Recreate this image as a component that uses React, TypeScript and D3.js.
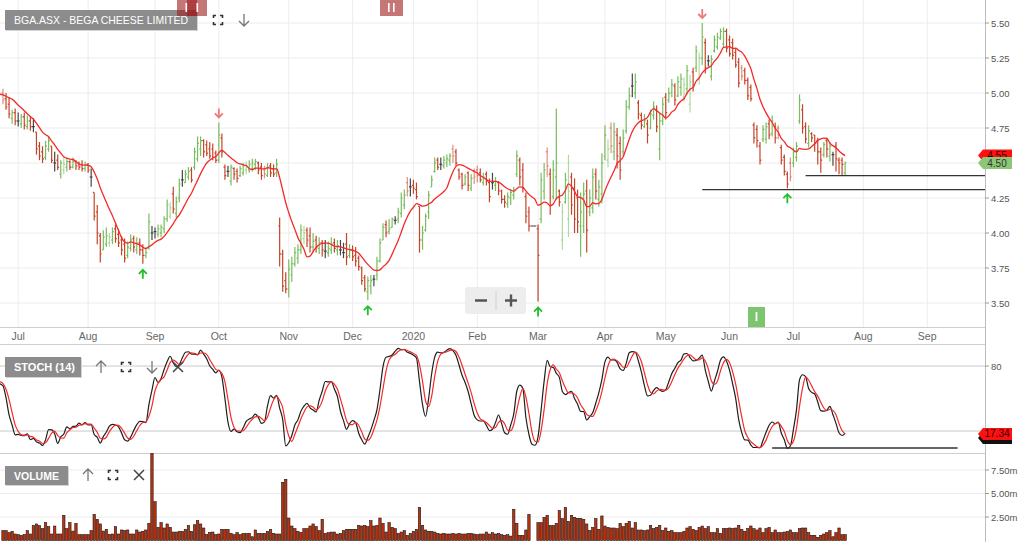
import React from 'react';
import * as d3 from 'd3';

// ---- data ----
const firstSession = '2019-06-24';
const axisEndDate = '2020-09-30';
const asxHolidays = ['2019-12-25', '2019-12-26', '2020-01-01', '2020-01-27', '2020-04-10', '2020-04-13', '2020-06-08'];

// sessions before the first visible bar, only used to warm up the SMA / stochastic
const warmupHighs = [5.12, 5.10, 5.11, 5.10, 5.04, 4.95, 4.92, 4.98, 5.02, 5.03, 5.04, 5.01, 5.03, 5.07, 5.06, 5.04, 5.04, 5.03];
const warmupLows = [5.02, 5.00, 5.01, 5.00, 4.90, 4.82, 4.80, 4.86, 4.93, 4.95, 4.94, 4.92, 4.93, 4.98, 4.97, 4.95, 4.96, 4.92];
const warmupCloses = [5.08, 5.05, 5.07, 5.02, 4.92, 4.86, 4.90, 4.96, 4.99, 5.00, 4.97, 4.95, 5.00, 5.03, 5.01, 4.99, 5.01, 4.96];

const opens = [
  5.00, 4.96, 4.92, 4.82, 4.86, 4.80, 4.78, 4.83, 4.76, 4.80,
  4.76, 4.72, 4.62, 4.58, 4.54, 4.60, 4.62, 4.50, 4.52, 4.42,
  4.45, 4.47, 4.51, 4.47, 4.51, 4.50, 4.49, 4.46, 4.49, 4.40,
  4.29, 4.15, 3.98, 3.88, 3.92, 3.93, 3.95, 4.03, 3.99, 3.95,
  3.92, 3.84, 3.89, 3.96, 3.88, 3.93, 3.88, 3.84, 3.90, 4.00,
  4.01, 3.99, 4.00, 4.03, 4.10, 4.12, 4.28, 4.14, 4.25, 4.38,
  4.36, 4.40, 4.45, 4.47, 4.53, 4.60, 4.66, 4.63, 4.60, 4.60,
  4.57, 4.52, 4.68, 4.47, 4.44, 4.37, 4.46, 4.44, 4.41, 4.43,
  4.45, 4.45, 4.46, 4.49, 4.50, 4.47, 4.45, 4.41, 4.48, 4.46,
  4.43, 4.05, 3.85, 3.66, 3.60, 3.70, 3.78, 3.82, 3.88, 3.96,
  4.02, 3.98, 3.90, 3.95, 3.89, 3.93, 3.87, 3.86, 3.88, 3.93,
  3.88, 3.88, 3.86, 3.92, 3.84, 3.88, 3.84, 3.82, 3.75, 3.68,
  3.58, 3.62, 3.67, 3.70, 3.80, 3.95, 4.06, 4.01, 4.04, 4.09,
  4.10, 4.14, 4.20, 4.36, 4.33, 4.34, 4.31, 4.19, 3.95, 4.02,
  4.15, 4.33, 4.44, 4.52, 4.49, 4.48, 4.50, 4.52, 4.60, 4.58,
  4.45, 4.42, 4.35, 4.43, 4.32, 4.44, 4.45, 4.43, 4.36, 4.42,
  4.36, 4.36, 4.34, 4.36, 4.30, 4.24, 4.21, 4.25, 4.27, 4.42,
  4.52, 4.45, 4.26, 4.15, 4.05, 4.05, 4.03, 4.10, 4.30, 4.58,
  4.42, 4.26, 4.40, 4.30, 3.95, 4.22, 4.10, 4.40, 4.32, 4.25,
  4.05, 4.05, 4.30, 4.15, 4.18, 4.42, 4.24, 4.28, 4.55, 4.52,
  4.75, 4.58, 4.70, 4.64, 4.58, 4.73, 4.90, 5.05, 5.00, 4.93,
  4.84, 4.76, 4.78, 4.75, 4.84, 4.88, 4.60, 4.80, 4.97, 4.95,
  5.00, 5.05, 4.98, 5.04, 4.97, 5.03, 4.92, 5.15, 5.18, 5.10,
  5.25, 5.36, 5.23, 5.12, 5.30, 5.33, 5.39, 5.35, 5.44, 5.38,
  5.36, 5.29, 5.22, 5.18, 5.16, 5.09, 5.04, 4.77, 4.74, 4.62,
  4.67, 4.67, 4.78, 4.71, 4.76, 4.75, 4.61, 4.54, 4.42, 4.50,
  4.50, 4.54, 4.80, 4.88, 4.76, 4.64, 4.71, 4.70, 4.66, 4.58,
  4.56, 4.66, 4.55, 4.56, 4.62, 4.52, 4.52, 4.43,
];

const highs = [
  5.03, 5.00, 4.97, 4.88, 4.89, 4.86, 4.85, 4.86, 4.84, 4.83,
  4.82, 4.72, 4.65, 4.62, 4.66, 4.69, 4.62, 4.58, 4.56, 4.52,
  4.54, 4.53, 4.52, 4.54, 4.52, 4.51, 4.52, 4.51, 4.50, 4.46,
  4.29, 4.20, 4.00, 4.02, 4.04, 4.00, 4.04, 4.06, 4.03, 3.98,
  3.96, 3.94, 3.99, 3.98, 3.97, 3.96, 3.92, 3.90, 4.14, 4.05,
  4.04, 4.06, 4.06, 4.12, 4.24, 4.22, 4.33, 4.26, 4.39, 4.45,
  4.45, 4.47, 4.47, 4.61, 4.69, 4.69, 4.67, 4.66, 4.65, 4.64,
  4.59, 4.79, 4.71, 4.49, 4.48, 4.49, 4.47, 4.46, 4.48, 4.50,
  4.51, 4.52, 4.53, 4.53, 4.51, 4.50, 4.48, 4.50, 4.50, 4.49,
  4.53, 4.11, 3.88, 3.72, 3.81, 3.83, 3.90, 3.92, 4.06, 4.05,
  4.04, 4.04, 4.00, 3.98, 3.97, 3.95, 3.95, 3.94, 3.97, 3.96,
  3.95, 3.95, 3.93, 4.00, 3.92, 3.91, 3.90, 3.84, 3.76, 3.70,
  3.69, 3.70, 3.70, 3.83, 3.96, 4.07, 4.09, 4.10, 4.11, 4.12,
  4.18, 4.29, 4.31, 4.40, 4.39, 4.38, 4.36, 4.19, 4.05, 4.14,
  4.30, 4.41, 4.54, 4.54, 4.54, 4.55, 4.56, 4.57, 4.63, 4.60,
  4.46, 4.43, 4.42, 4.44, 4.42, 4.46, 4.48, 4.46, 4.43, 4.44,
  4.39, 4.43, 4.40, 4.37, 4.31, 4.27, 4.29, 4.31, 4.33, 4.59,
  4.54, 4.50, 4.29, 4.19, 4.05, 4.05, 4.06, 4.43, 4.50, 4.61,
  4.46, 4.52, 4.89, 4.31, 4.21, 4.43, 4.56, 4.43, 4.39, 4.31,
  4.29, 4.36, 4.38, 4.31, 4.46, 4.46, 4.38, 4.57, 4.77, 4.67,
  4.79, 4.79, 4.75, 4.69, 4.74, 4.95, 5.04, 5.14, 5.14, 4.95,
  4.86, 4.85, 4.81, 4.88, 4.94, 4.91, 4.86, 4.97, 5.00, 5.04,
  5.10, 5.07, 5.12, 5.14, 5.11, 5.20, 5.13, 5.18, 5.34, 5.29,
  5.50, 5.39, 5.27, 5.27, 5.41, 5.43, 5.46, 5.47, 5.46, 5.41,
  5.39, 5.32, 5.25, 5.20, 5.18, 5.11, 5.06, 4.79, 4.77, 4.65,
  4.77, 4.79, 4.81, 4.84, 4.79, 4.77, 4.63, 4.56, 4.44, 4.54,
  4.61, 4.65, 4.99, 4.92, 4.79, 4.77, 4.72, 4.70, 4.68, 4.61,
  4.65, 4.68, 4.65, 4.58, 4.65, 4.54, 4.54, 4.51,
];

const lows = [
  4.92, 4.88, 4.82, 4.78, 4.77, 4.76, 4.75, 4.74, 4.74, 4.73,
  4.72, 4.56, 4.52, 4.50, 4.52, 4.58, 4.50, 4.44, 4.45, 4.39,
  4.42, 4.44, 4.45, 4.46, 4.45, 4.45, 4.44, 4.44, 4.43, 4.33,
  4.09, 3.92, 3.79, 3.88, 3.90, 3.90, 3.92, 3.93, 3.90, 3.84,
  3.79, 3.82, 3.87, 3.86, 3.85, 3.84, 3.78, 3.82, 3.88, 3.95,
  3.96, 3.97, 3.97, 4.00, 4.08, 4.10, 4.14, 4.11, 4.22, 4.33,
  4.36, 4.38, 4.36, 4.45, 4.51, 4.55, 4.54, 4.55, 4.53, 4.52,
  4.50, 4.50, 4.54, 4.38, 4.40, 4.34, 4.38, 4.36, 4.40, 4.41,
  4.42, 4.43, 4.44, 4.45, 4.42, 4.38, 4.39, 4.40, 4.40, 4.40,
  4.40, 3.76, 3.58, 3.57, 3.54, 3.65, 3.76, 3.78, 3.85, 3.92,
  3.90, 3.86, 3.86, 3.86, 3.85, 3.83, 3.82, 3.83, 3.85, 3.86,
  3.84, 3.84, 3.82, 3.77, 3.82, 3.80, 3.76, 3.73, 3.63, 3.58,
  3.52, 3.56, 3.62, 3.66, 3.79, 3.95, 3.97, 3.99, 4.04, 4.06,
  4.07, 4.11, 4.17, 4.26, 4.26, 4.28, 4.24, 3.86, 3.88, 4.01,
  4.10, 4.33, 4.43, 4.45, 4.45, 4.46, 4.47, 4.48, 4.50, 4.48,
  4.38, 4.31, 4.34, 4.30, 4.30, 4.35, 4.36, 4.36, 4.34, 4.34,
  4.22, 4.31, 4.30, 4.27, 4.21, 4.18, 4.18, 4.20, 4.24, 4.40,
  4.34, 4.29, 4.07, 4.01, 4.05, 4.05, 3.51, 4.07, 4.24, 4.40,
  4.13, 4.24, 4.24, 4.19, 3.88, 4.21, 3.97, 4.13, 4.00, 4.00,
  3.83, 4.00, 3.86, 4.12, 4.14, 4.24, 4.19, 4.21, 4.52, 4.47,
  4.57, 4.52, 4.46, 4.38, 4.55, 4.71, 4.88, 4.97, 4.96, 4.81,
  4.74, 4.75, 4.64, 4.74, 4.81, 4.72, 4.52, 4.77, 4.81, 4.93,
  4.97, 4.91, 4.97, 4.98, 4.94, 4.99, 4.86, 5.01, 5.15, 5.06,
  5.20, 5.14, 5.19, 5.09, 5.29, 5.31, 5.38, 5.32, 5.29, 5.26,
  5.24, 5.18, 5.04, 5.09, 5.06, 4.95, 4.94, 4.64, 4.61, 4.49,
  4.65, 4.64, 4.67, 4.69, 4.64, 4.67, 4.49, 4.41, 4.32, 4.37,
  4.47, 4.51, 4.78, 4.71, 4.64, 4.61, 4.65, 4.58, 4.49, 4.43,
  4.54, 4.54, 4.51, 4.48, 4.44, 4.42, 4.41, 4.41,
];

const closes = [
  4.95, 4.90, 4.85, 4.86, 4.80, 4.80, 4.83, 4.77, 4.80, 4.76,
  4.76, 4.60, 4.55, 4.53, 4.62, 4.66, 4.52, 4.50, 4.47, 4.50,
  4.49, 4.51, 4.47, 4.51, 4.48, 4.47, 4.46, 4.49, 4.45, 4.40,
  4.12, 4.00, 3.85, 3.97, 3.98, 3.97, 4.01, 3.96, 3.93, 3.88,
  3.82, 3.90, 3.95, 3.90, 3.92, 3.88, 3.84, 3.86, 4.08, 4.00,
  4.01, 4.03, 4.04, 4.10, 4.20, 4.18, 4.17, 4.22, 4.35, 4.38,
  4.42, 4.44, 4.38, 4.58, 4.64, 4.66, 4.58, 4.57, 4.55, 4.54,
  4.52, 4.70, 4.58, 4.41, 4.44, 4.47, 4.42, 4.39, 4.46, 4.48,
  4.47, 4.49, 4.50, 4.51, 4.45, 4.41, 4.42, 4.47, 4.43, 4.42,
  4.49, 3.85, 3.62, 3.60, 3.74, 3.78, 3.86, 3.88, 4.02, 4.00,
  3.95, 3.90, 3.94, 3.90, 3.93, 3.88, 3.87, 3.89, 3.92, 3.89,
  3.91, 3.88, 3.86, 3.83, 3.88, 3.83, 3.80, 3.76, 3.66, 3.60,
  3.66, 3.66, 3.67, 3.80, 3.93, 4.04, 4.00, 4.03, 4.10, 4.09,
  4.15, 4.25, 4.27, 4.30, 4.33, 4.32, 4.26, 3.95, 4.00, 4.12,
  4.27, 4.38, 4.50, 4.47, 4.49, 4.52, 4.53, 4.55, 4.55, 4.50,
  4.40, 4.34, 4.40, 4.34, 4.39, 4.40, 4.41, 4.38, 4.40, 4.37,
  4.26, 4.36, 4.37, 4.30, 4.24, 4.22, 4.26, 4.29, 4.31, 4.55,
  4.40, 4.32, 4.12, 4.05, 4.05, 4.05, 3.84, 4.38, 4.45, 4.48,
  4.20, 4.45, 4.50, 4.22, 4.15, 4.38, 4.30, 4.20, 4.10, 4.08,
  4.15, 4.28, 4.02, 4.25, 4.40, 4.30, 4.33, 4.50, 4.70, 4.60,
  4.62, 4.72, 4.55, 4.45, 4.68, 4.90, 4.98, 5.05, 5.08, 4.85,
  4.77, 4.80, 4.70, 4.85, 4.90, 4.76, 4.80, 4.92, 4.86, 5.00,
  5.06, 4.95, 5.08, 5.10, 5.06, 5.16, 5.08, 5.05, 5.30, 5.25,
  5.40, 5.18, 5.23, 5.24, 5.38, 5.40, 5.44, 5.44, 5.32, 5.28,
  5.27, 5.20, 5.07, 5.12, 5.09, 4.98, 4.96, 4.68, 4.66, 4.52,
  4.74, 4.76, 4.70, 4.80, 4.68, 4.70, 4.52, 4.44, 4.35, 4.40,
  4.58, 4.62, 4.95, 4.75, 4.67, 4.73, 4.68, 4.64, 4.58, 4.52,
  4.63, 4.60, 4.62, 4.56, 4.53, 4.50, 4.49, 4.50,
];

// daily volume, millions of shares
const volumes = [
  1.05, 1.05, 0.83, 0.98, 0.69, 0.62, 0.55, 0.65, 1.05, 0.69,
  1.61, 1.76, 1.58, 1.26, 1.90, 1.47, 0.69, 1.54, 0.69, 0.69,
  2.68, 1.26, 1.90, 1.00, 1.83, 0.62, 0.62, 0.62, 0.62, 1.05,
  2.78, 2.25, 1.76, 1.00, 1.19, 0.65, 0.69, 1.47, 0.69, 1.12,
  1.05, 1.12, 0.69, 0.69, 1.12, 0.90, 0.98, 1.12, 1.83, 9.27,
  4.13, 1.40, 1.90, 1.33, 1.76, 1.40, 0.90, 0.90, 0.98, 0.98,
  1.19, 1.61, 0.98, 1.68, 2.11, 1.76, 1.33, 0.62, 0.86, 0.90,
  0.62, 0.69, 1.19, 1.19, 1.19, 0.76, 0.62, 0.83, 0.62, 0.76,
  0.76, 0.76, 0.40, 1.12, 0.76, 0.76, 0.76, 0.98, 1.19, 0.76,
  0.69, 0.69, 6.19, 6.51, 2.39, 1.54, 1.26, 0.98, 0.86, 1.26,
  1.26, 1.54, 1.76, 1.47, 1.05, 2.25, 0.76, 0.83, 0.90, 0.90,
  0.69, 0.76, 1.05, 1.19, 1.19, 1.19, 1.19, 1.61, 1.54, 1.61,
  1.47, 2.11, 1.54, 1.61, 2.39, 1.83, 0.90, 1.90, 1.40, 1.26,
  0.76, 0.90, 1.05, 0.55, 0.76, 0.98, 1.19, 3.53, 1.61, 1.12,
  0.98, 0.98, 0.90, 0.76, 0.69, 0.76, 0.69, 0.69, 0.76, 0.69,
  0.76, 0.69, 0.69, 0.76, 0.76, 0.69, 0.62, 0.69, 0.69, 0.90,
  0.69, 0.83, 0.69, 0.76, 0.62, 0.55, 0.62, 0.47, 3.32, 1.83,
  0.55, 0.55, 1.12, 2.78, 0, 0, 1.90, 1.90, 2.46, 2.68,
  1.61, 1.61, 1.83, 3.18, 2.32, 3.53, 2.04, 2.68, 2.46, 2.36,
  2.36, 2.25, 1.76, 1.05, 1.40, 2.32, 1.19, 2.61, 1.54, 1.40,
  1.33, 1.33, 1.26, 1.83, 1.47, 1.83, 2.04, 1.33, 1.90, 1.12,
  1.12, 1.05, 1.12, 1.61, 1.26, 1.40, 1.61, 1.05, 1.33, 0.98,
  1.05, 0.83, 0.83, 0.83, 0.98, 1.33, 1.47, 1.19, 1.05, 1.40,
  1.54, 1.26, 1.47, 0.83, 0.83, 1.26, 0.76, 1.26, 1.26, 1.33,
  1.26, 1.33, 1.61, 1.19, 0.98, 1.26, 1.54, 1.26, 1.12, 1.33,
  0.83, 1.26, 1.40, 0.83, 1.12, 0.83, 0.83, 0.90, 0.98, 1.12,
  0.83, 0.83, 1.26, 1.33, 1.33, 0.83, 0.55, 0.55, 0.33, 0.55,
  0.69, 0.83, 1.05, 0.40, 0.83, 1.33, 0.62, 0.62,
];

const priceTicks = [3.5, 3.75, 4.0, 4.25, 4.5, 4.75, 5.0, 5.25, 5.5];
const stochGuides = [20, 80];
const stochLabels = [80];
const volumeTicks = [2.5, 5, 7.5];

// signal arrows (session index) and user drawn levels
const upSignals = [46, 120, 176, 258];
const downSignals = [71, 230];
const priceLevels = [{ from: 230, level: 4.31 }, { from: 264, level: 4.41 }];
const stochLevel = { from: 253, to: 314, level: 4.3 };

const MA_PERIOD = 10;
const STOCH_PERIOD = 14;
const SMOOTH = 3;

// ---- helpers ----
const FONT = '"Liberation Sans", Arial, sans-serif';
const RIGHT = 985;
const UP = '#72b955';
const DOWN = '#c23a1e';
const FLAT = '#3d3d3d';

const iso = (d: Date) => d.toISOString().slice(0, 10);

function sessions(): Date[] {
  const out: Date[] = [];
  const hol = new Set(asxHolidays);
  const d = new Date(firstSession + 'T00:00:00Z');
  const end = new Date(axisEndDate + 'T00:00:00Z');
  while (d <= end) {
    const wd = d.getUTCDay();
    if (wd !== 0 && wd !== 6 && !hol.has(iso(d))) out.push(new Date(d));
    d.setUTCDate(d.getUTCDate() + 1);
  }
  return out;
}

function sma(arr: (number | null)[], n: number): (number | null)[] {
  return arr.map((_, i) => {
    if (i < n - 1) return null;
    const s = arr.slice(i - n + 1, i + 1);
    if (s.some(v => v == null)) return null;
    return d3.mean(s as number[]) as number;
  });
}

function FullscreenIcon({ cx, cy }: { cx: number; cy: number }) {
  const s = 4.5, c = 2.5;
  const d = `M${cx - s},${cy - s + c}V${cy - s}H${cx - s + c} M${cx + s - c},${cy - s}H${cx + s}V${cy - s + c}
    M${cx + s},${cy + s - c}V${cy + s}H${cx + s - c} M${cx - s + c},${cy + s}H${cx - s}V${cy + s - c}`;
  return <path d={d} fill="none" stroke="#333" strokeWidth={1.6} />;
}

function ArrowIcon({ cx, cy, up }: { cx: number; cy: number; up: boolean }) {
  const t = up ? cy - 6 : cy + 6;
  const b = up ? cy + 6 : cy - 6;
  const w = up ? 5 : -5;
  return (
    <path d={`M${cx},${b}V${t} M${cx - 5},${t + w} L${cx},${t} L${cx + 5},${t + w}`}
      fill="none" stroke="#777" strokeWidth={1.3} />
  );
}

function CloseIcon({ cx, cy }: { cx: number; cy: number }) {
  return <path d={`M${cx - 5},${cy - 5}L${cx + 5},${cy + 5}M${cx + 5},${cy - 5}L${cx - 5},${cy + 5}`}
    stroke="#444" strokeWidth={1.5} />;
}

function PanelTag({ x, y, w, h, text, bold, len }: { x: number; y: number; w: number; h: number; text: string; bold?: boolean; len?: number }) {
  return (
    <g>
      <rect x={x + 1} y={y + 1} width={w} height={h} fill="#d4d4d4" />
      <rect x={x} y={y} width={w} height={h} fill="#8c8c8c" />
      <text x={x + 9} y={y + h / 2 + 4} fill="#fff" fontSize={11} fontWeight={bold ? 700 : 400}
        textLength={len} lengthAdjust="spacingAndGlyphs">{text}</text>
    </g>
  );
}

function PriceTag({ y, fill, text, color }: { y: number; fill: string; text: string; color: string }) {
  return (
    <g>
      <path d={`M978,${y} L983,${y - 6} H1012 V${y + 6} H983 Z`} fill={fill} />
      <text x={997} y={y + 3.5} fontSize={10} fill={color} textAnchor="middle">{text}</text>
    </g>
  );
}

export default function App() {
  const days = sessions();
  const sepIdx = days.findIndex(d => iso(d) === '2020-09-01');
  const x = d3.scaleLinear().domain([0, sepIdx]).range([3, 927.2]);
  const yP = d3.scaleLinear().domain([3.5, 5.5]).range([303, 23]);
  const yS = d3.scaleLinear().domain([0, 100]).range([452.7, 344.4]);
  const yV = d3.scaleLinear().domain([0, 7.5]).range([540.5, 470]);

  // indicators over warm-up + visible sessions
  const W = warmupCloses.length;
  const allH = [...warmupHighs, ...highs];
  const allL = [...warmupLows, ...lows];
  const allC = [...warmupCloses, ...closes];
  const ma = sma(allC, MA_PERIOD);
  const fastK = allC.map((c, i) => {
    if (i < STOCH_PERIOD - 1) return null;
    const hh = d3.max(allH.slice(i - STOCH_PERIOD + 1, i + 1)) as number;
    const ll = d3.min(allL.slice(i - STOCH_PERIOD + 1, i + 1)) as number;
    return hh === ll ? 50 : (100 * (c - ll)) / (hh - ll);
  });
  const slowK = sma(fastK, SMOOTH);
  const slowD = sma(slowK, SMOOTH);

  type Pt = { k: number; v: number };
  const series = (arr: (number | null)[]): Pt[] =>
    arr.map((v, i) => ({ k: i - W, v: v as number })).filter(p => p.k >= -1 && arr[p.k + W] != null);

  const priceLine = d3.line<Pt>().x(p => x(p.k)).y(p => yP(p.v)).curve(d3.curveMonotoneX);
  const stochLine = d3.line<Pt>().x(p => x(p.k)).y(p => yS(p.v)).curve(d3.curveMonotoneX);

  const monthTicks = days
    .map((d, i) => ({ d, i }))
    .filter(({ d, i }) => i > 0 && d.getUTCMonth() !== days[i - 1].getUTCMonth());
  const monthLabel = (d: Date) => (d.getUTCMonth() === 0 ? String(d.getUTCFullYear()) : d3.utcFormat('%b')(d));

  const n = closes.length;
  const lastMA = ma[ma.length - 1] as number;
  const lastK = slowK[slowK.length - 1] as number;
  const lastD = slowD[slowD.length - 1] as number;

  return (
    <div style={{ position: 'fixed', left: 0, top: 0 }}>
      <svg width={1024} height={542} style={{ display: 'block', background: '#fff', fontFamily: FONT }}>
        <defs>
          <clipPath id="mainClip"><rect x={0} y={0} width={RIGHT} height={327} /></clipPath>
          <clipPath id="stochClip"><rect x={0} y={344} width={RIGHT} height={109} /></clipPath>
        </defs>

        {/* main panel grid */}
        {priceTicks.map(t => (
          <line key={t} x1={0} x2={RIGHT} y1={yP(t)} y2={yP(t)} stroke="#ececec" />
        ))}
        {monthTicks.map(({ i }) => (
          <line key={i} x1={x(i)} x2={x(i)} y1={0} y2={327} stroke="#ececec" />
        ))}

        {/* OHLC bars */}
        <g clipPath="url(#mainClip)">
          {closes.map((c, k) => {
            const o = opens[k];
            const col = c > o ? UP : c < o ? DOWN : FLAT;
            const prev = k > 0 ? closes[k - 1] : c;
            const faded = c !== o && (c > o) !== (c >= prev);
            const cx = x(k);
            return (
              <g key={k} stroke={col} strokeOpacity={faded ? 0.55 : 0.95} strokeWidth={1.2}>
                <line x1={cx} x2={cx} y1={yP(highs[k])} y2={yP(lows[k])} />
                <line x1={cx - 1.4} x2={cx} y1={yP(o)} y2={yP(o)} />
                <line x1={cx} x2={cx + 1.4} y1={yP(c)} y2={yP(c)} />
              </g>
            );
          })}
          <path d={priceLine(series(ma)) || ''} fill="none" stroke="#f42a2a" strokeWidth={1.3} />
          {priceLevels.map((l, i) => (
            <line key={i} x1={x(l.from)} x2={RIGHT} y1={yP(l.level)} y2={yP(l.level)} stroke="#333" strokeWidth={1.3} />
          ))}
          {upSignals.map(k => {
            const cx = x(k), t = yP(lows[k]) + 6;
            return <path key={k} d={`M${cx},${t + 9}V${t} M${cx - 4},${t + 4}L${cx},${t}L${cx + 4},${t + 4}`}
              fill="none" stroke="#22c02a" strokeWidth={1.8} />;
          })}
          {downSignals.map(k => {
            const cx = x(k), t = yP(highs[k]) - 5;
            return <path key={k} d={`M${cx},${t - 9}V${t} M${cx - 4},${t - 4}L${cx},${t}L${cx + 4},${t - 4}`}
              fill="none" stroke="#f07a7a" strokeWidth={1.8} />;
          })}
        </g>

        {/* panel frames */}
        <line x1={0} x2={RIGHT} y1={327.5} y2={327.5} stroke="#cfcfcf" />
        <line x1={0} x2={RIGHT} y1={344.5} y2={344.5} stroke="#cfcfcf" />
        <line x1={0} x2={RIGHT} y1={453.5} y2={453.5} stroke="#cfcfcf" />
        <line x1={RIGHT + 0.5} x2={RIGHT + 0.5} y1={0} y2={542} stroke="#bdbdbd" />

        {/* price axis */}
        {priceTicks.map(t => (
          <g key={t}>
            <line x1={RIGHT} x2={RIGHT + 4} y1={yP(t)} y2={yP(t)} stroke="#999" />
            <text x={RIGHT + 6} y={yP(t) + 3.5} fontSize={9.5} fill="#555">{t.toFixed(2)}</text>
          </g>
        ))}

        {/* date axis */}
        {monthTicks.map(({ d, i }) => (
          <text key={i} x={x(i)} y={340} fontSize={10.5} fill="#666" textAnchor="middle">{monthLabel(d)}</text>
        ))}

        {/* stochastic panel */}
        {stochGuides.map(g => (
          <line key={g} x1={0} x2={RIGHT} y1={yS(g)} y2={yS(g)} stroke="#c9c9c9" />
        ))}
        {stochLabels.map(g => (
          <g key={g}>
            <line x1={RIGHT} x2={RIGHT + 4} y1={yS(g)} y2={yS(g)} stroke="#999" />
            <text x={RIGHT + 6} y={yS(g) + 3.5} fontSize={9.5} fill="#555">{g}</text>
          </g>
        ))}
        <g clipPath="url(#stochClip)">
          <path d={stochLine(series(slowK)) || ''} fill="none" stroke="#1e1e1e" strokeWidth={1.2} />
          <path d={stochLine(series(slowD)) || ''} fill="none" stroke="#f42a2a" strokeWidth={1.2} />
        </g>
        <line x1={x(stochLevel.from)} x2={x(stochLevel.to)} y1={yS(stochLevel.level)} y2={yS(stochLevel.level)}
          stroke="#333" strokeWidth={1.4} />

        {/* volume panel */}
        {volumeTicks.map(t => (
          <g key={t}>
            <line x1={0} x2={RIGHT} y1={yV(t)} y2={yV(t)} stroke="#ececec" />
            <line x1={RIGHT} x2={RIGHT + 4} y1={yV(t)} y2={yV(t)} stroke="#999" />
            <text x={RIGHT + 6} y={yV(t) + 3.5} fontSize={9.5} fill="#555">{t.toFixed(2)}m</text>
          </g>
        ))}
        {volumes.map((v, k) =>
          v > 0 ? (
            <rect key={k} x={x(k) - 1.2} y={yV(v)} width={2.4} height={yV(0) - yV(v)}
              fill="#c1310c" stroke="#1a1a1a" strokeWidth={0.6} />
          ) : null
        )}

        {/* last value tags */}
        <PriceTag y={yP(lastMA)} fill="#ff1010" text={lastMA.toFixed(2)} color="#2a0000" />
        <PriceTag y={yP(closes[n - 1])} fill="#8cc777" text={closes[n - 1].toFixed(2)} color="#333" />
        <PriceTag y={Math.max(yS(lastK), yS(lastD) + 4)} fill="#111" text={lastK.toFixed(2)} color="#111" />
        <PriceTag y={yS(lastD)} fill="#ff1010" text={lastD.toFixed(2)} color="#2a0000" />

        {/* headers & controls */}
        <PanelTag x={5} y={10} w={192} h={20} text="BGA.ASX - BEGA CHEESE LIMITED" len={174} />
        <FullscreenIcon cx={218} cy={20} />
        <ArrowIcon cx={244} cy={20} up={false} />

        <PanelTag x={5} y={357} w={76} h={20} text="STOCH (14)" bold />
        <ArrowIcon cx={101} cy={367} up />
        <FullscreenIcon cx={126} cy={367} />
        <ArrowIcon cx={152} cy={367} up={false} />
        <CloseIcon cx={178} cy={367} />

        <PanelTag x={5} y={466} w={63} h={19} text="VOLUME" bold len={45} />
        <ArrowIcon cx={88} cy={475} up />
        <FullscreenIcon cx={113} cy={475} />
        <CloseIcon cx={139} cy={475} />

        {/* event markers */}
        <g fillOpacity={0.6}>
          <rect x={177} y={0} width={20} height={16} fill="#9e1b1b" />
          <rect x={187} y={0} width={20} height={16} fill="#9e1b1b" />
          <rect x={380} y={0} width={23} height={16} fill="#9e1b1b" />
        </g>
        <g fill="#fff">
          <rect x={185.5} y={3} width={1.6} height={9} />
          <rect x={196.5} y={3} width={1.6} height={9} />
          <rect x={388} y={3} width={1.6} height={9} />
          <rect x={393} y={3} width={1.6} height={9} />
        </g>
        <rect x={748} y={307} width={17} height={20} fill="#7cc46e" />
        <rect x={755.6} y={312} width={1.8} height={9} fill="#fff" />

        {/* zoom control */}
        <rect x={465} y={287} width={61} height={27} rx={3} fill="#ededed" />
        <line x1={496} x2={496} y1={291} y2={310} stroke="#d0d0d0" />
        <path d="M475,300.5H487 M505,300.5H517 M511,294.5V306.5" stroke="#555" strokeWidth={2.4} />
      </svg>
    </div>
  );
}
